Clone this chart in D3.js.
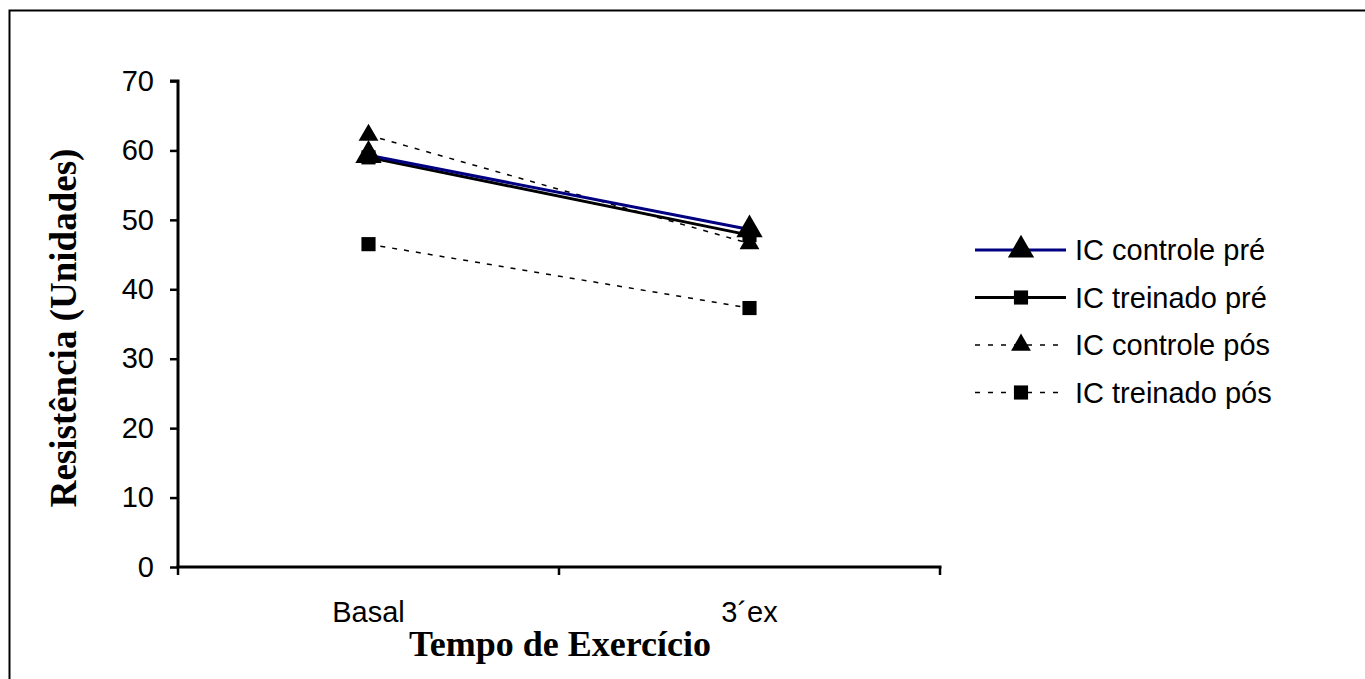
<!DOCTYPE html>
<html>
<head>
<meta charset="utf-8">
<script src="https://cdn.jsdelivr.net/npm/d3@7"></script>
<style>
  html, body { margin: 0; padding: 0; background: #fff; }
  svg { display: block; }
</style>
</head>
<body>
<svg id="chart" width="1365" height="679"></svg>
<script>
// Categories on the x axis
const categories = ["Basal", "3´ex"];
// Series values (Resistência, unidades)
const controlePre  = [59.3, 48.6];
const treinadoPre  = [59.0, 47.8];
const controlePos  = [62.2, 46.6];
const treinadoPos  = [46.5, 37.3];
const seriesNames  = ["IC controle pré", "IC treinado pré", "IC controle pós", "IC treinado pós"];
const yTicks = [0, 10, 20, 30, 40, 50, 60, 70];

const series = [
  { name: seriesNames[0], values: controlePre, color: "#000080", width: 3, dash: null,  marker: "triangle", msize: 300 },
  { name: seriesNames[1], values: treinadoPre, color: "#000000", width: 3, dash: null,  marker: "square",   msize: 200 },
  { name: seriesNames[2], values: controlePos, color: "#000000", width: 1.5, dash: "5,7", marker: "triangle", msize: 170 },
  { name: seriesNames[3], values: treinadoPos, color: "#000000", width: 1.5, dash: "5,7", marker: "square",   msize: 200 }
];

const sansFont = "Liberation Sans, Arial, sans-serif";
const serifFont = "Liberation Serif, Times New Roman, serif";
const labelSize = 29;

const svg = d3.select("#chart");

// Outer frame (open at right and bottom edges)
svg.append("path")
  .attr("d", "M9.5,680 L9.5,10.5 L1366,10.5")
  .attr("fill", "none").attr("stroke", "#000").attr("stroke-width", 2);

const plot = { left: 178, right: 940, top: 81, bottom: 567 };

const y = d3.scaleLinear().domain([0, 70]).range([plot.bottom, plot.top]);
const xBand = d3.scaleBand().domain(categories).range([plot.left, plot.right]).padding(0);
const xc = c => xBand(c) + xBand.bandwidth() / 2;

// Y axis
const yAxis = svg.append("g")
  .attr("transform", `translate(${plot.left},0)`)
  .call(d3.axisLeft(y).tickValues(yTicks).tickSize(8).tickPadding(16).tickFormat(d3.format("d")));
yAxis.select(".domain").attr("stroke-width", 3).attr("d", `M-8,${plot.top}H0V${plot.bottom}`);
yAxis.selectAll(".tick line").attr("stroke-width", 2.5);
yAxis.selectAll(".tick text")
  .attr("font-family", sansFont)
  .attr("font-size", labelSize).attr("fill", "#000");

// X axis: ticks at category boundaries, labels centered in categories
const xAxis = svg.append("g").attr("transform", `translate(0,${plot.bottom})`);
xAxis.append("line")
  .attr("x1", plot.left - 1.5).attr("x2", plot.right + 1.5)
  .attr("stroke", "#000").attr("stroke-width", 3);
const bounds = [plot.left].concat(categories.map(c => xBand(c) + xBand.bandwidth()));
xAxis.selectAll("line.tk").data(bounds).join("line").attr("class", "tk")
  .attr("x1", d => d).attr("x2", d => d).attr("y1", 0).attr("y2", 8)
  .attr("stroke", "#000").attr("stroke-width", 2.5);
xAxis.selectAll("text.cat").data(categories).join("text").attr("class", "cat")
  .attr("x", d => xc(d)).attr("y", 55)
  .attr("text-anchor", "middle")
  .attr("font-family", sansFont)
  .attr("font-size", labelSize).attr("fill", "#000")
  .text(d => d);

// Axis titles
svg.append("text")
  .attr("x", 560).attr("y", 656)
  .attr("text-anchor", "middle")
  .attr("font-family", serifFont)
  .attr("font-weight", "bold").attr("font-size", 36)
  .text("Tempo de Exercício");

svg.append("text")
  .attr("transform", "translate(76,328) rotate(-90)")
  .attr("text-anchor", "middle")
  .attr("font-family", serifFont)
  .attr("font-weight", "bold").attr("font-size", 37)
  .text("Resistência (Unidades)");

// Lines and markers
const line = d3.line().x((d, i) => xc(categories[i])).y(d => y(d));
const symType = m => m === "triangle" ? d3.symbolTriangle : d3.symbolSquare;

const drawOrder = [2, 3, 1, 0];
drawOrder.forEach(k => {
  const s = series[k];
  svg.append("path")
    .datum(s.values)
    .attr("d", line)
    .attr("fill", "none")
    .attr("stroke", s.color)
    .attr("stroke-width", s.width)
    .attr("stroke-dasharray", s.dash);
});
drawOrder.forEach(k => {
  const s = series[k];
  svg.selectAll(null).data(s.values).join("path")
    .attr("transform", (d, i) => `translate(${xc(categories[i])},${y(d)})`)
    .attr("d", d3.symbol().type(symType(s.marker)).size(s.msize))
    .attr("fill", "#000");
});

// Legend
const legend = svg.append("g").attr("transform", "translate(975,250)");
series.forEach((s, i) => {
  const g = legend.append("g").attr("transform", `translate(0,${i * 47.5})`);
  g.append("line")
    .attr("x1", 0).attr("x2", 91).attr("y1", 0).attr("y2", 0)
    .attr("stroke", s.color)
    .attr("stroke-width", s.dash ? 1.5 : 3)
    .attr("stroke-dasharray", s.dash ? "5,8" : null);
  g.append("path")
    .attr("transform", "translate(46,0)")
    .attr("d", d3.symbol().type(symType(s.marker)).size(s.msize))
    .attr("fill", "#000");
  g.append("text")
    .attr("x", 100).attr("y", 10)
    .attr("font-family", sansFont)
    .attr("font-size", labelSize).attr("fill", "#000")
    .text(s.name);
});
</script>
</body>
</html>
